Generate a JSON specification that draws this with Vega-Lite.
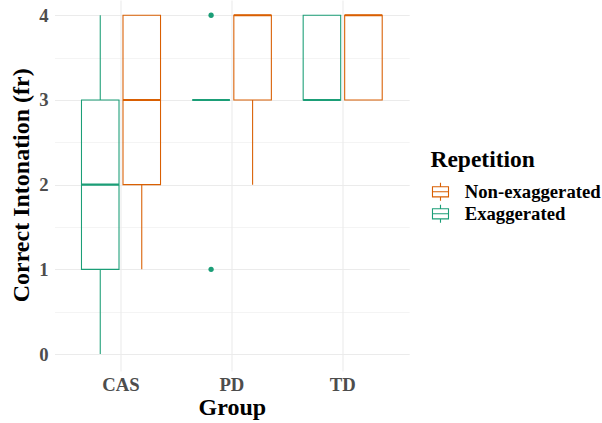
{
  "$schema": "https://vega.github.io/schema/vega-lite/v6.json",
  "autosize": "none",
  "padding": {"left": 54.5, "top": 0, "right": 193, "bottom": 52},
  "width": 354.7,
  "height": 371,
  "config": {
    "view": {"stroke": null},
    "font": "Liberation Serif",
    "axis": {"labelFont": "Liberation Serif", "titleFont": "Liberation Serif"},
    "legend": {"labelFont": "Liberation Serif", "titleFont": "Liberation Serif"},
    "background": "white"
  },
  "datasets": {
    "boxes": [
      {"group": "CAS", "rep": "Exaggerated", "lower": 0, "q1": 1, "median": 2, "q3": 3, "upper": 4},
      {"group": "CAS", "rep": "Non-exaggerated", "lower": 1, "q1": 2, "median": 3, "q3": 4, "upper": 4},
      {"group": "PD", "rep": "Exaggerated", "lower": 3, "q1": 3, "median": 3, "q3": 3, "upper": 3},
      {"group": "PD", "rep": "Non-exaggerated", "lower": 2, "q1": 3, "median": 4, "q3": 4, "upper": 4},
      {"group": "TD", "rep": "Exaggerated", "lower": 3, "q1": 3, "median": 3, "q3": 4, "upper": 4},
      {"group": "TD", "rep": "Non-exaggerated", "lower": 3, "q1": 3, "median": 4, "q3": 4, "upper": 4}
    ],
    "outliers": [
      {"group": "PD", "rep": "Exaggerated", "value": 4},
      {"group": "PD", "rep": "Exaggerated", "value": 1}
    ]
  },
  "encoding": {
    "x": {
      "field": "group", "type": "nominal",
      "scale": {"domain": ["CAS", "PD", "TD"], "paddingInner": 0, "paddingOuter": 0.1},
      "axis": {
        "title": "Group", "titleFontSize": 24, "titleFontWeight": "bold", "titleColor": "black",
        "titleX": 177.35, "titleY": 43.3, "titleBaseline": "alphabetic", "titleAnchor": "middle",
        "labelFontSize": 18.7, "labelFontWeight": "bold", "labelColor": "#4D4D4D",
        "labelAngle": 0, "labelPadding": 4.5, "labelBaseline": "top",
        "ticks": false, "domain": false, "grid": true, "gridColor": "#EBEBEB", "gridWidth": 1.07,
        "bandPosition": 0.5
      }
    },
    "xOffset": {
      "field": "rep", "type": "nominal",
      "scale": {"domain": ["Exaggerated", "Non-exaggerated"], "paddingInner": 0.096, "paddingOuter": 0.383}
    },
    "color": {
      "field": "rep", "type": "nominal",
      "scale": {"domain": ["Non-exaggerated", "Exaggerated"], "range": ["#D95F02", "#1B9E77"]},
      "legend": {
        "title": "Repetition", "orient": "none", "legendX": 376, "legendY": 147.7, "padding": 0,
        "titleFontSize": 23.5, "titleFontWeight": "bold", "titleColor": "black", "titlePadding": 10.6,
        "labelFontSize": 18.7, "labelFontWeight": "bold", "labelColor": "black", "labelOffset": 14.2,
        "symbolType": "M-0.89,-0.56H0.89V0.56H-0.89Z M-0.89,0H0.89 M0,-0.56V-1 M0,0.56V1",
        "symbolSize": 324, "symbolStrokeWidth": 1.1,
        "rowPadding": -8,
        "encode": {"symbols": {"update": {"fill": {"value": "transparent"}, "fillOpacity": {"value": 0}}}}
      }
    }
  },
  "layer": [
    {
      "data": {"name": "boxes"},
      "mark": {"type": "rule", "strokeWidth": 1.07},
      "encoding": {
        "y": {
          "field": "lower", "type": "quantitative",
          "scale": {"domain": [-0.2, 4.18], "nice": false, "zero": false},
          "axis": {
            "title": "Correct Intonation (fr)", "titleFontSize": 24, "titleFontWeight": "bold", "titleColor": "black",
            "titleAngle": 270, "titleX": -25.5, "titleY": 184.8, "titleBaseline": "alphabetic", "titleAlign": "center",
            "values": [0, 0.5, 1, 1.5, 2, 2.5, 3, 3.5, 4],
            "labelExpr": "datum.value % 1 === 0 ? format(datum.value, 'd') : ''",
            "labelFontSize": 18.7, "labelFontWeight": "bold", "labelColor": "#4D4D4D", "labelPadding": 6.5,
            "ticks": false, "domain": false, "grid": true, "gridColor": "#EBEBEB",
            "gridWidth": {"condition": {"test": "datum.value % 1 === 0", "value": 1.07}, "value": 0.55}
          }
        },
        "y2": {"field": "q1"}
      }
    },
    {
      "data": {"name": "boxes"},
      "mark": {"type": "rule", "strokeWidth": 1.07},
      "encoding": {
        "y": {"field": "q3", "type": "quantitative"},
        "y2": {"field": "upper"}
      }
    },
    {
      "data": {"name": "boxes"},
      "mark": {"type": "bar", "filled": false, "strokeWidth": 1.07},
      "encoding": {
        "y": {"field": "q1", "type": "quantitative"},
        "y2": {"field": "q3"}
      }
    },
    {
      "data": {"name": "boxes"},
      "mark": {"type": "bar", "filled": false, "strokeWidth": 2.1},
      "encoding": {
        "y": {"field": "median", "type": "quantitative"},
        "y2": {"field": "median"}
      }
    },
    {
      "data": {"name": "outliers"},
      "mark": {"type": "point", "filled": true, "opacity": 1, "size": 28},
      "encoding": {
        "y": {"field": "value", "type": "quantitative"}
      }
    }
  ]
}
